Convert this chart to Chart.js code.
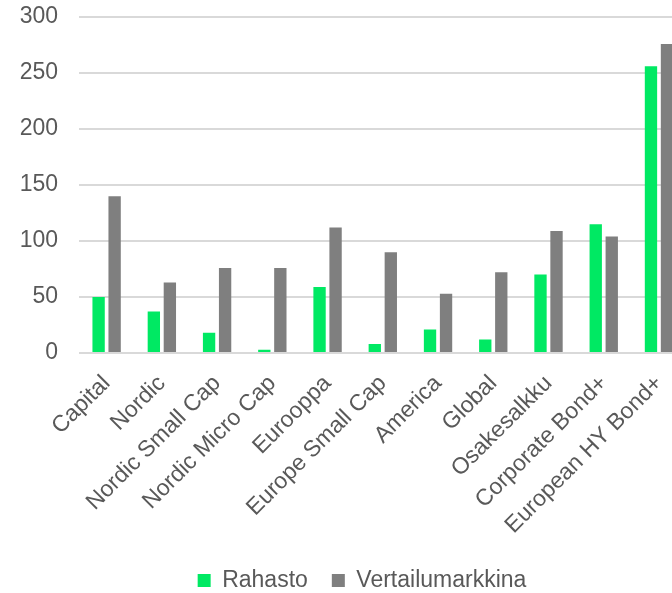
<!DOCTYPE html>
<html>
<head>
<meta charset="utf-8">
<script src="https://cdn.jsdelivr.net/npm/chart.js@4/dist/chart.umd.min.js"></script>
<style>
  html, body { margin: 0; padding: 0; overflow: hidden; background: #ffffff; width: 672px; height: 593px; }
  #wrap { position: absolute; left: 0; top: 0; width: 724px; height: 602px; }
</style>
</head>
<body>
<div id="wrap"><canvas id="c"></canvas></div>
<script>
const categories = ["Capital", "Nordic", "Nordic Small Cap", "Nordic Micro Cap", "Eurooppa", "Europe Small Cap", "America", "Global", "Osakesalkku", "Corporate Bond+", "European HY Bond+"];
const rahasto = [50, 37, 18, 3, 59, 8, 21, 12, 70, 115, 256];
const vertailumarkkina = [140, 63, 76, 76, 112, 90, 53, 72, 109, 104, 276];
const seriesNames = ["Rahasto", "Vertailumarkkina"];
const yTicks = [0, 50, 100, 150, 200, 250, 300];

const FONT = "'Liberation Sans', Arial, sans-serif";
const TEXT = "#595959";

new Chart(document.getElementById("c"), {
  type: "bar",
  data: {
    labels: categories,
    datasets: [
      { label: seriesNames[0], data: rahasto, backgroundColor: "#00E963", borderWidth: 0, categoryPercentage: 0.58, barPercentage: 0.77 },
      { label: seriesNames[1], data: vertailumarkkina, backgroundColor: "#7F7F7F", borderWidth: 0, categoryPercentage: 0.58, barPercentage: 0.77 }
    ]
  },
  options: {
    responsive: true,
    maintainAspectRatio: false,
    animation: false,
    devicePixelRatio: 1,
    layout: { padding: 0 },
    plugins: {
      tooltip: { enabled: false },
      legend: {
        position: "bottom",
        labels: {
          font: { family: FONT, size: 23 },
          color: TEXT,
          boxWidth: 13,
          boxHeight: 13,
          padding: 24
        }
      }
    },
    scales: {
      x: {
        grid: { display: false },
        border: { display: false },
        ticks: {
          font: { family: FONT, size: 23 },
          color: TEXT,
          maxRotation: 45,
          minRotation: 45,
          autoSkip: false,
          padding: 9
        },
        afterFit: (s) => { s.height = 192; }
      },
      y: {
        min: 0,
        max: 300,
        afterBuildTicks: (s) => { s.ticks = yTicks.map(v => ({ value: v })); },
        grid: { color: "#D9D9D9", lineWidth: 2, drawTicks: false },
        border: { display: false },
        ticks: {
          font: { family: FONT, size: 23 },
          color: TEXT,
          padding: 21
        },
        afterFit: (s) => { s.width = 79; s.paddingTop = 17; s.paddingBottom = 0; }
      },
      spacer: {
        type: "linear",
        position: "right",
        display: true,
        grid: { display: false },
        border: { display: false },
        ticks: { display: false },
        afterFit: (s) => { s.width = 37.4; s.paddingTop = 0; s.paddingBottom = 0; }
      }
    }
  }
});
</script>
</body>
</html>
